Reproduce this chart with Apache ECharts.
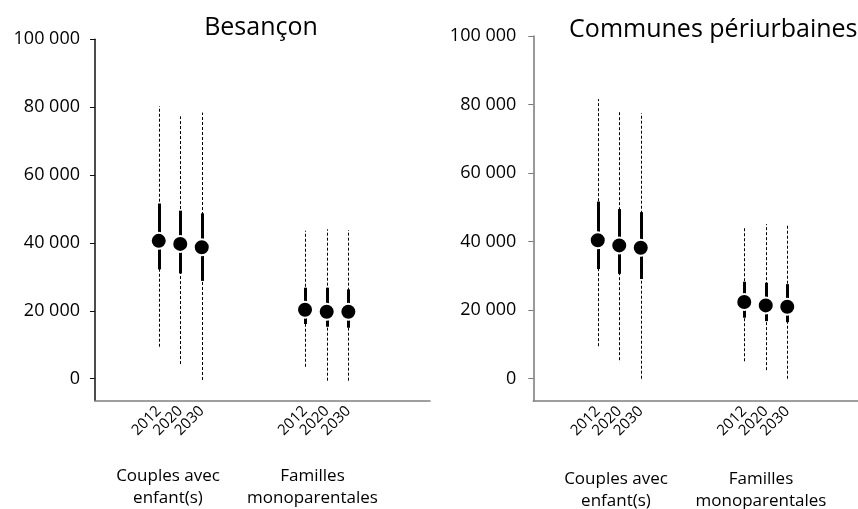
<!DOCTYPE html>
<html>
<head>
<meta charset="utf-8">
<script src="https://cdn.jsdelivr.net/npm/echarts@6/dist/echarts.min.js"></script>
<style>html,body{margin:0;padding:0;background:#fff}#c{width:858px;height:509px}</style>
</head>
<body>
<div id="c"></div>
<script>
// ---- data ----
const years = ['2012', '2020', '2030'];
const groupLabels = ['Couples avec\nenfant(s)', 'Familles\nmonoparentales'];
const panelTitles = ['Besançon', 'Communes périurbaines'];
const yTicks = [0, 20000, 40000, 60000, 80000, 100000];

// Besançon
const besCouplesMid  = [40600, 39700, 38700];
const besCouplesLo50 = [32200, 31000, 28800];
const besCouplesHi50 = [51600, 49500, 48700];
const besCouplesLo95 = [9400, 4300, -400];
const besCouplesHi95 = [80300, 77300, 78400];
const besFamMid  = [20300, 19700, 19700];
const besFamLo50 = [16100, 15300, 15000];
const besFamHi50 = [26800, 26800, 26300];
const besFamLo95 = [3500, -600, -600];
const besFamHi95 = [43600, 44000, 43800];

// Communes périurbaines
const periCouplesMid  = [40400, 38900, 38200];
const periCouplesLo50 = [32000, 30600, 29100];
const periCouplesHi50 = [51700, 49500, 48600];
const periCouplesLo95 = [9500, 5400, 0];
const periCouplesHi95 = [81600, 77900, 77500];
const periFamMid  = [22400, 21400, 21000];
const periFamLo50 = [17800, 16800, 16500];
const periFamHi50 = [28300, 28000, 27600];
const periFamLo95 = [5100, 2500, 0];
const periFamHi95 = [44300, 45100, 44900];

// ---- layout ----
const FONT = 'Open Sans';
const Y_MIN = -6500, Y_MAX = 100000;
const panels = [
  { top: 39.3, bottom: 108.3, left: 95, right: 428, yColor: '#111', labelMargin: 15,
    groups: [
      { left: 148, width: 64.5, mid: besCouplesMid, lo50: besCouplesLo50, hi50: besCouplesHi50, lo95: besCouplesLo95, hi95: besCouplesHi95 },
      { left: 294.2, width: 65, mid: besFamMid, lo50: besFamLo50, hi50: besFamHi50, lo95: besFamLo95, hi95: besFamHi95 }
    ],
    titleX: 256, titleTop: 8, labelX: [163, 307.5], labelTop: 460 },
  { top: 36, bottom: 108, left: 533.3, right: 0, yColor: '#777', labelMargin: 17,
    groups: [
      { left: 587, width: 64.5, mid: periCouplesMid, lo50: periCouplesLo50, hi50: periCouplesHi50, lo95: periCouplesLo95, hi95: periCouplesHi95 },
      { left: 733.5, width: 64.5, mid: periFamMid, lo50: periFamLo50, hi50: periFamHi50, lo95: periFamLo95, hi95: periFamHi95 }
    ],
    titleX: 708.3, titleTop: 10, labelX: [611, 756], labelTop: 463 }
];

function fmt(v) { return String(v).replace(/\B(?=(\d{3})+(?!\d))/g, ' '); }

function rangeRender(width, dash) {
  return function (params, api) {
    const a = api.coord([api.value(0), api.value(1)]);
    const b = api.coord([api.value(0), api.value(2)]);
    const x = Math.round(a[0]) + (width % 2 ? 0.5 : 0);
    return {
      type: 'line',
      shape: { x1: x, y1: a[1], x2: x, y2: b[1] },
      style: { stroke: '#000', lineWidth: width, lineDash: dash, lineCap: 'butt' }
    };
  };
}

const grid = [], xAxis = [], yAxis = [], series = [], title = [];
panels.forEach((p, pi) => {
  // frame grid
  const fi = grid.length;
  grid.push({ left: p.left, right: p.right, top: p.top, bottom: p.bottom, containLabel: false });
  xAxis.push({ gridIndex: fi, type: 'value', min: 0, max: 1, position: 'bottom',
    axisLine: { show: true, onZero: false, lineStyle: { color: '#808080', width: 1.5 } },
    axisTick: { show: false }, axisLabel: { show: false }, splitLine: { show: false } });
  yAxis.push({ gridIndex: fi, type: 'value', min: Y_MIN, max: Y_MAX,
    axisLine: { show: true, onZero: false, lineStyle: { color: p.yColor, width: 1.5 } },
    axisTick: { show: true, length: 5, customValues: yTicks, lineStyle: { color: p.yColor } },
    axisLabel: { show: true, customValues: yTicks, margin: p.labelMargin, fontFamily: FONT, fontSize: 18, color: '#000', formatter: fmt },
    splitLine: { show: false } });

  title.push({ text: panelTitles[pi], left: p.titleX, top: p.titleTop, textAlign: 'center',
    textStyle: { fontFamily: FONT, fontSize: 25, fontWeight: 'normal', color: '#000', lineHeight: 30 } });

  p.groups.forEach((g, gi) => {
    const idx = grid.length;
    grid.push({ left: g.left, width: g.width, top: p.top, bottom: p.bottom, containLabel: false });
    xAxis.push({ gridIndex: idx, type: 'category', data: years, boundaryGap: true, position: 'bottom',
      axisLine: { show: false, onZero: false }, axisTick: { show: false }, splitLine: { show: false },
      axisLabel: { show: true, rotate: 45, interval: 0, margin: 8, fontFamily: FONT, fontSize: 15, color: '#000' } });
    yAxis.push({ gridIndex: idx, type: 'value', min: Y_MIN, max: Y_MAX, show: false, splitLine: { show: false } });

    series.push({ type: 'custom', xAxisIndex: idx, yAxisIndex: idx, renderItem: rangeRender(1, [3, 2]),
      data: years.map((y, i) => [i, g.lo95[i], g.hi95[i]]), encode: { x: 0, y: [1, 2] }, silent: true, z: 2 });
    series.push({ type: 'custom', xAxisIndex: idx, yAxisIndex: idx, renderItem: rangeRender(3, null),
      data: years.map((y, i) => [i, g.lo50[i], g.hi50[i]]), encode: { x: 0, y: [1, 2] }, silent: true, z: 3 });
    series.push({ type: 'scatter', xAxisIndex: idx, yAxisIndex: idx, symbol: 'circle', symbolSize: 16,
      itemStyle: { color: '#000', borderColor: '#fff', borderWidth: 2, opacity: 1 },
      data: years.map((y, i) => [i, g.mid[i]]), silent: true, z: 4 });

    title.push({ text: groupLabels[gi], left: p.labelX[gi], top: p.labelTop, textAlign: 'center',
      textStyle: { fontFamily: FONT, fontSize: 17, fontWeight: 'normal', color: '#000', lineHeight: 22 } });
  });
});

const chart = echarts.init(document.getElementById('c'), null, { renderer: 'canvas' });
chart.setOption({ animation: false, backgroundColor: '#fff', title, grid, xAxis, yAxis, series });
</script>
</body>
</html>
